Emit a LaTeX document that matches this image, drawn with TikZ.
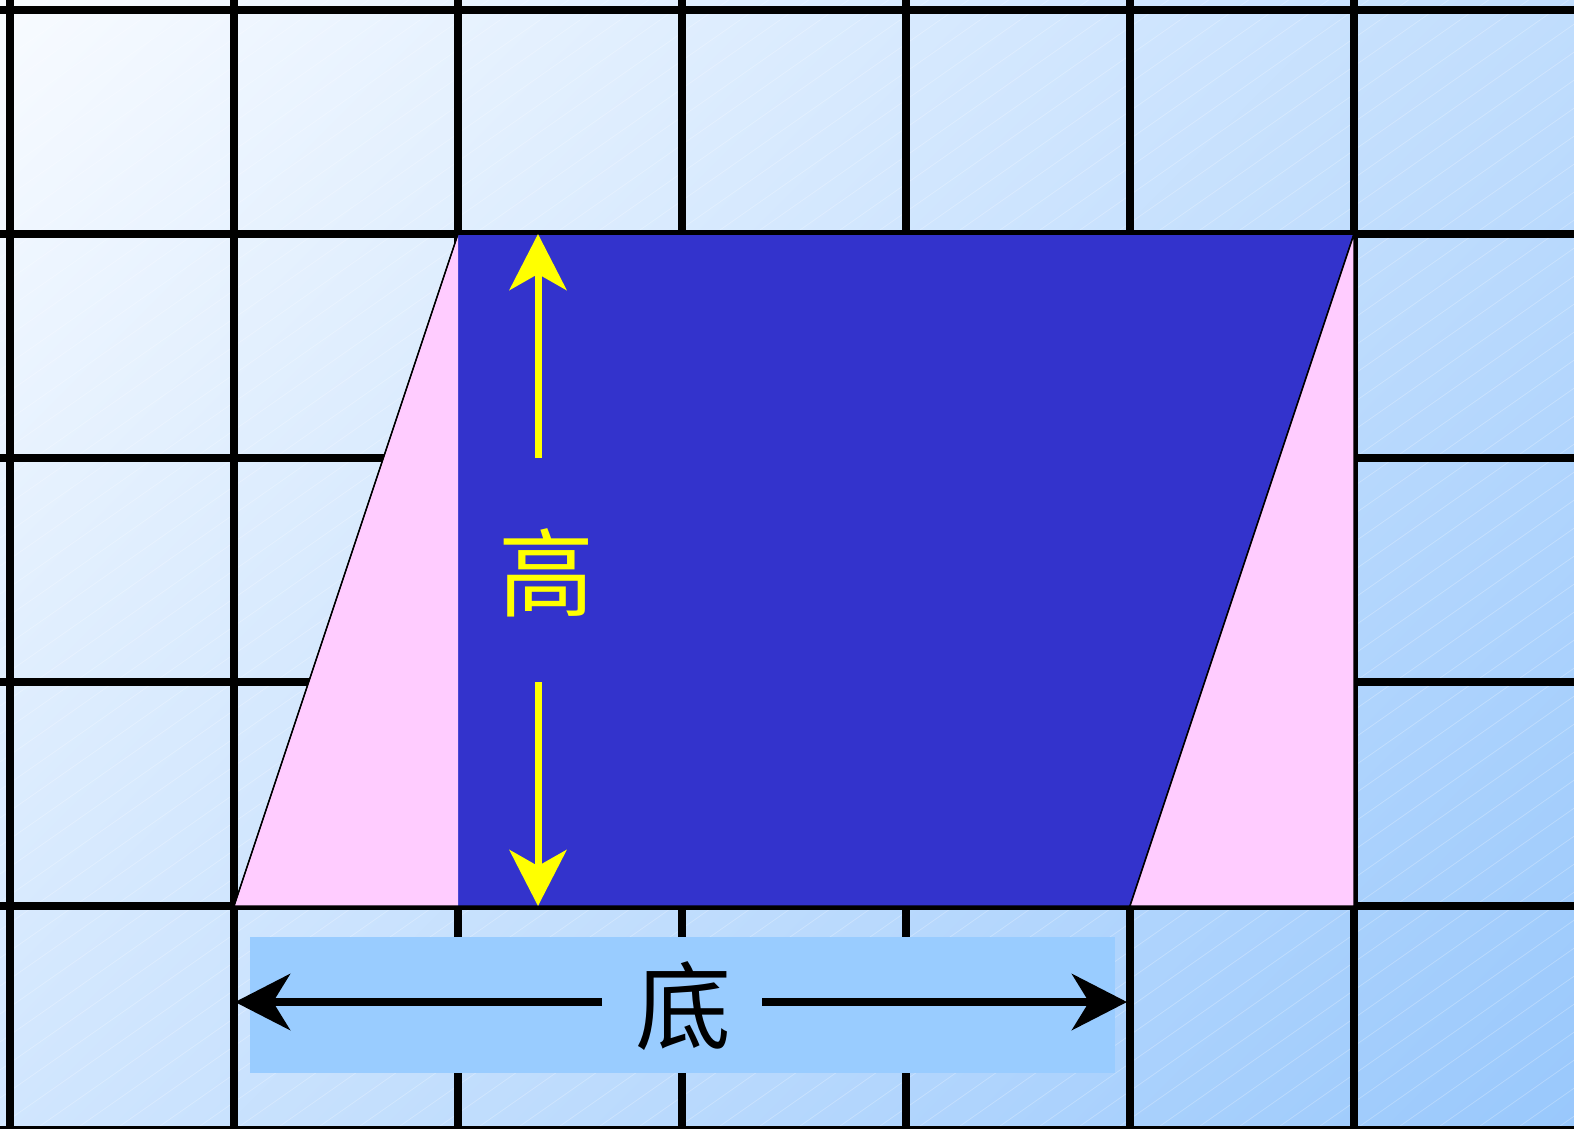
\documentclass[tikz,border=0pt]{standalone}
\usepackage{fontspec}
\newfontfamily\cjk{Noto Sans CJK SC}
\usetikzlibrary{arrows.meta}
\definecolor{bgA}{HTML}{F8FBFF}
\definecolor{bgB}{HTML}{99C8FC}
\definecolor{paraBlue}{HTML}{3333CC}
\definecolor{pinkTri}{HTML}{FFCCFF}
\definecolor{boxBlue}{HTML}{99CCFF}
\definecolor{yel}{HTML}{FFFF00}
\pgfdeclareverticalshading{bgshade}{100bp}{color(0bp)=(bgB); color(14.6bp)=(bgB); color(85.4bp)=(bgA); color(100bp)=(bgA)}
\tikzset{
  gridline/.style={line width=8pt, black},
  hatch/.style={white, opacity=0.28, line width=0.7pt},
  outline/.style={draw=black, line width=1.5pt, line join=miter},
  yarrow/.style={yel, line width=7pt, -{Stealth[length=56pt, width=57pt, inset=16pt]}},
  barrow/.style={black, line width=8pt, -{Stealth[length=55pt, width=56pt, inset=17pt]}},
  lbl/.style={inner sep=0pt, font=\cjk\fontsize{96}{100}\selectfont}
}
\begin{document}
\begin{tikzpicture}[x=1pt, y=-1pt]
\useasboundingbox (0,0) rectangle (1574,1128);
\clip (0,0) rectangle (1574,1128);
% background gradient
\shade[shading=bgshade, shading angle=45] (0,0) rectangle (1574,1128);
% faint hatch
\foreach \i in {-1660,-1620,...,1600} {
  \draw[hatch] (\i,1140) -- ++(2000,-1400);
}
% grid
\foreach \x in {10,234,458,682,906,1130,1354,1578} {
  \draw[gridline] (\x,-10) -- (\x,1140);
}
\foreach \y in {10,234,458,682,906,1130} {
  \draw[gridline] (-10,\y) -- (1600,\y);
}
% shapes
\coordinate (pBL) at (234,906);
\coordinate (pTL) at (458,234);
\coordinate (pTR) at (1354,234);
\coordinate (pBR) at (1130,906);
\coordinate (pBM) at (458,906);
\coordinate (pR) at (1354,906);
\fill[paraBlue] (pBL) -- (pTL) -- (pTR) -- (pBR) -- cycle;
\fill[pinkTri] (pBL) -- (pTL) -- (pBM) -- cycle;
\draw[black, line width=1pt] (pBL) -- (pTL);
\draw[outline] (pBL) -- (pTL) -- (pTR) -- (pBR) -- cycle;
\fill[pinkTri] (pBR) -- (pTR) -- (pR) -- cycle;
\draw[outline] (pBR) -- (pTR) -- (pR) -- cycle;
% light box under base label
\fill[boxBlue] (250,937) rectangle (1115,1073);
% height arrows and label
\coordinate (hTop) at (538,234);
\coordinate (hA) at (538,458);
\coordinate (hB) at (538,682);
\coordinate (hBot) at (538,906);
\draw[yarrow] (hA) -- (hTop);
\draw[yarrow] (hB) -- (hBot);
\node[lbl, text=yel] (gao) at (546,573) {高};
% base arrows and label
\coordinate (bL) at (235,1002);
\coordinate (bA) at (602,1002);
\coordinate (bB) at (762,1002);
\coordinate (bR) at (1127,1002);
\draw[barrow] (bA) -- (bL);
\draw[barrow] (bB) -- (bR);
\node[lbl, text=black] (di) at (683,1006) {底};
\end{tikzpicture}
\end{document}
